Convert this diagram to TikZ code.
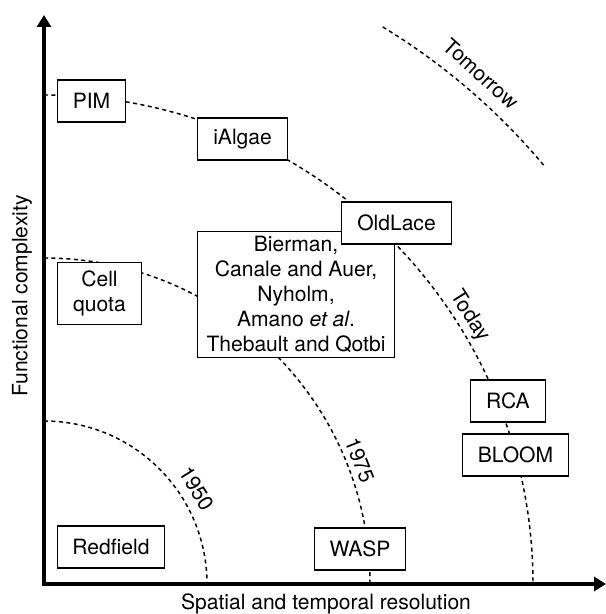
\documentclass[tikz,border=0pt]{standalone}
\usepackage{fontspec}
\setmainfont{TeX Gyre Heros}
\usetikzlibrary{arrows.meta}

\begin{document}
\begin{tikzpicture}[x=0.75pt,y=0.75pt,
  every node/.style={font=\fontsize{15.8}{18.75}\selectfont},
  model/.style={draw, line width=0.8pt, fill=white, align=center,
    inner xsep=11.5pt, inner ysep=3.3pt, minimum height=31.5pt},
  era/.style={line width=1.1pt, dash pattern=on 3pt off 2.6pt},
  axis/.style={line width=2.4pt, {Triangle[length=9pt,width=10.5pt]}-{Triangle[length=9pt,width=10.5pt]}}]
\useasboundingbox (-44,-30) rectangle (562,584);
% axes
\draw[axis] (0,569) -- (0,0) -- (562,0);
\node[rotate=90] (ylab) at (-22,288) {Functional complexity};
\node (xlab) at (282,-20) {Spatial and temporal resolution};
% time fronts
\draw[era] (0,163) arc (90:0:163);
\draw[era] (0,326) arc (90:0:326);
\draw[era] (0,489) arc (90:0:489);
\draw[era] (58.7:652) arc (58.7:39.8:652);
\node[rotate=-58] (y1950) at (32:180) {1950};
\node[rotate=-68.6] (y1975) at (21.4:339) {1975};
\node[rotate=-57.8] (today) at (32.2:503) {Today};
\node[rotate=-42] (tomorrow) at (49.4:672) {Tomorrow};
% models
\node[model] (redfield) at (67,37) {Redfield};
\node[model] (wasp) at (316,35) {WASP};
\node[model, minimum height=47pt] (cellquota) at (55.5,290.5) {Cell\\quota};
\node[model, inner xsep=7pt] (bierman) at (252,289.5) {Bierman,\\Canale and Auer,\\Nyholm,\\Amano \textit{et al}.\\Thebault and Qotbi};
\node[model] (pim) at (47.5,483) {PIM};
\node[model] (ialgae) at (198.5,445) {iAlgae};
\node[model] (oldlace) at (352.5,361) {OldLace};
\node[model] (rca) at (464,183) {RCA};
\node[model] (bloom) at (471.5,129) {BLOOM};
\end{tikzpicture}
\end{document}
